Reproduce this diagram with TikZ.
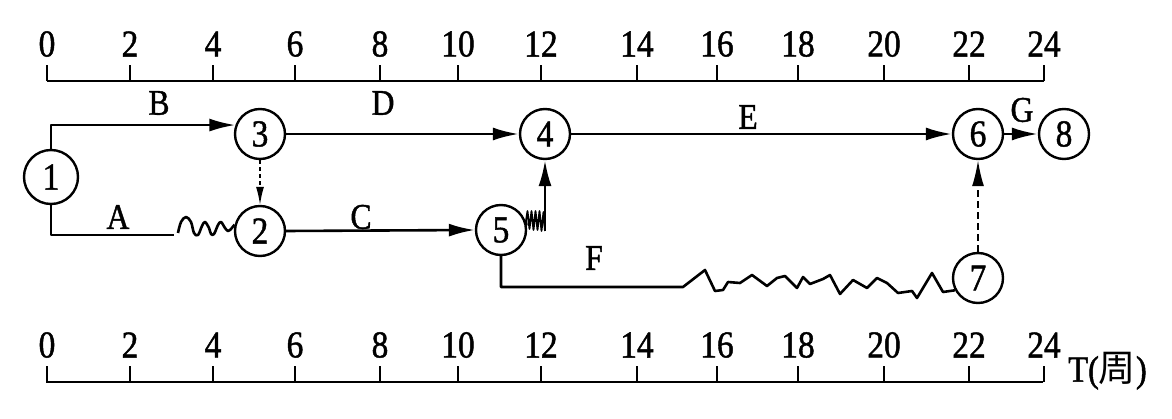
\documentclass[tikz,border=0pt]{standalone}
\usepackage{fontspec}
\setmainfont{Liberation Serif}[FakeStretch=0.88,FakeBold=1.2]
\newfontfamily\cjk{Noto Sans CJK SC}
\usetikzlibrary{arrows.meta}
\begin{document}
\begin{tikzpicture}[x=1pt,y=-1pt,
  ev/.style={circle,draw,line width=2.4pt,minimum size=50pt,inner sep=0pt,font=\fontsize{38}{40}\selectfont},
  ln/.style={line width=2.6pt,line join=round},
  arr/.style={ln,-{Latex[length=26pt,width=13pt]}},
  dsmall/.style={line width=1.3pt,dash pattern=on 4pt off 3pt,-{Latex[length=18pt,width=8pt]}},
  dbig/.style={line width=1.8pt,dash pattern=on 7pt off 4pt,-{Latex[length=26pt,width=12pt]}},
  lab/.style={font=\fontsize{36}{38}\selectfont,inner sep=0pt},
  ax/.style={line width=2.4pt},
  num/.style={font=\fontsize{38}{40}\selectfont,inner sep=0pt}]
\useasboundingbox (0,0) rectangle (1172,419);
% axes
\draw[ax] (47,81) -- (1044,81);
\draw[ax] (46,382) -- (1043,382);
\foreach \v/\x in {0/47,2/130,4/213,6/295,8/380,10/458,12/541,14/637,16/717,18/798,20/884,22/969,24/1044}{
  \draw[ax] (\x,81) -- (\x,65);
  \node[num] (t\v) at (\x,44) {\v};
  \draw[ax] (\x,382) -- (\x,366);
  \node[num] (b\v) at (\x,345) {\v};
}
\node[font=\fontsize{37}{40}\selectfont,inner sep=0pt,anchor=west] (tl) at (1068,371) {T(\cjk 周\rmfamily)};
% events
\node[ev,minimum height=54pt] (n1) at (51,177) {1};
\node[ev] (n3) at (260,134) {3};
\node[ev] (n4) at (545,134) {4};
\node[ev] (n2) at (260,231) {2};
\node[ev] (n5) at (501,230) {5};
\node[ev] (n6) at (978,134) {6};
\node[ev] (n8) at (1064,134) {8};
\node[ev] (n7) at (978,278) {7};
% labels
\node[lab] (lB) at (159,103) {B};
\node[lab] (lD) at (383,103) {D};
\node[lab] (lA) at (118,217) {A};
\node[lab] (lC) at (361,217) {C};
\node[lab] (lF) at (594,258) {F};
\node[lab] (lE) at (748,117) {E};
\node[lab] (lG) at (1022,110) {G};
% B
\draw[arr] (n1.north) |- (n3.160);
% A with wave
\coordinate (aend) at (174,235);
\draw[ln] (n1.south) |- (aend);
\draw[ln] plot[smooth,tension=0.6] coordinates {(178,233) (181,222) (186,217) (191,222) (194,233) (198,235) (202,226) (205,222) (209,228) (211,234) (214,234) (218,225) (221,222) (225,228) (228,231) (231,229)} -- (n2.166);
% dummy 3-2
\draw[dsmall] (n3.south) -- (n2.north);
% D, C, E, G
\draw[arr] (n3.east) -- (n4.west);
\draw[arr] (n2.east) -- (n5.west);
\draw[arr] (n4.east) -- (n6.west);
\draw[arr] (n6.east) -- (n8.west);
% 5 -> 4 with spring
\coordinate (s5) at (545,231);
\draw[line width=1.8pt,line join=round] (n5.10) -- (526,221) -- (527.5,211) -- (529.5,229) -- (531.5,211) -- (533.5,230) -- (535.5,211) -- (537.5,230) -- (539.5,211) -- (541.5,231) -- (543.5,212) -- (s5);
\draw[arr] (s5) -- (n4.south);
% F with wave
\coordinate (fst) at (683,287);
\draw[ln] (n5.south) |- (fst) -- (705,270) -- (715,291) -- (723,290) -- (728,282) -- (740,283) -- (752,275) -- (767,286) -- (777,278) -- (785,276) -- (797,288) -- (803,277) -- (810,284) -- (823,279) -- (830,275) -- (840,294) -- (853,280) -- (867,288) -- (877,278) -- (887,283) -- (898,293) -- (912,291) -- (917,298) -- (932,273) -- (943,292) -- (n7.208);
% dummy 7-6
\draw[dbig] (n7.north) -- (n6.south);
\end{tikzpicture}
\end{document}
